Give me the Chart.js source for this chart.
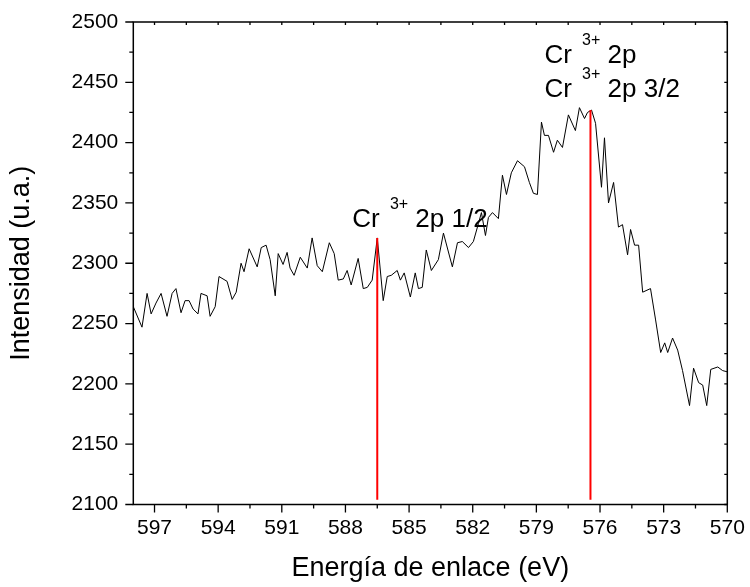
<!DOCTYPE html>
<html>
<head>
<meta charset="utf-8">
<script src="https://cdn.jsdelivr.net/npm/chart.js@4.4.1/dist/chart.umd.min.js"></script>
<style>
    html, body { margin: 0; padding: 0; background: #fff; }
    #wrap { width: 750px; height: 587px; }
</style>
</head>
<body>
<div id="wrap"><canvas id="xps" width="750" height="587"></canvas></div>
<script>
// Espectro XPS Cr 2p (energía de enlace en eV, intensidad en u.a.)
const energia = [
    598.00, 597.59, 597.35, 597.16, 596.93, 596.69, 596.41, 596.17, 595.99, 595.75,
    595.56, 595.37, 595.18, 594.95, 594.81, 594.52, 594.38, 594.14, 593.96, 593.58,
    593.34, 593.15, 592.92, 592.78, 592.54, 592.16, 591.97, 591.74, 591.55, 591.31,
    591.17, 590.94, 590.75, 590.61, 590.42, 590.13, 589.80, 589.57, 589.33, 589.09,
    588.76, 588.53, 588.34, 588.10, 587.92, 587.73, 587.40, 587.16, 586.97, 586.74,
    586.50, 586.22, 586.03, 585.84, 585.56, 585.41, 585.23, 584.94, 584.71, 584.56,
    584.38, 584.19, 583.95, 583.62, 583.38, 582.96, 582.72, 582.49, 582.20, 581.97,
    581.73, 581.59, 581.40, 581.26, 581.07, 580.79, 580.60, 580.41, 580.18, 579.89,
    579.56, 579.33, 579.14, 578.95, 578.76, 578.62, 578.43, 578.19, 578.01, 577.77,
    577.49, 577.16, 576.97, 576.73, 576.59, 576.40, 576.21, 575.93, 575.79, 575.60,
    575.36, 575.13, 574.94, 574.70, 574.56, 574.37, 574.18, 573.99, 573.62, 573.38,
    573.14, 572.95, 572.81, 572.58, 572.34, 572.11, 571.78, 571.59, 571.35, 571.16,
    570.97, 570.78, 570.45, 570.22, 570.00
];
const intensidad = [
    2264, 2247, 2275, 2258, 2267, 2275, 2256, 2275, 2279, 2259,
    2269, 2269, 2262, 2258, 2275, 2273, 2256, 2264, 2289, 2285,
    2270, 2276, 2300, 2293, 2312, 2297, 2313, 2315, 2303, 2273,
    2308, 2299, 2309, 2296, 2290, 2305, 2296, 2321, 2298, 2293,
    2317, 2308, 2286, 2287, 2294, 2282, 2304, 2279, 2280, 2286,
    2321, 2269, 2289, 2290, 2294, 2286, 2292, 2272, 2292, 2279,
    2280, 2311, 2294, 2303, 2325, 2297, 2317, 2318, 2313, 2318,
    2333, 2342, 2323, 2338, 2342, 2337, 2373, 2357, 2375, 2385,
    2380, 2367, 2358, 2357, 2417, 2406, 2406, 2392, 2402, 2396,
    2423, 2410, 2429, 2420, 2425, 2427, 2416, 2363, 2404, 2350,
    2367, 2330, 2332, 2307, 2328, 2315, 2315, 2276, 2279, 2253,
    2226, 2234, 2226, 2238, 2228, 2211, 2182, 2213, 2201, 2199,
    2182, 2212, 2214, 2211, 2210
];

// Líneas rojas de los picos
const picosEnergia = [586.5, 576.45];
const picosTope = [2321, 2427];
const picosBase = 2104;

const xTicks = [597, 594, 591, 588, 585, 582, 579, 576, 573, 570];
const yTicks = [2100, 2150, 2200, 2250, 2300, 2350, 2400, 2450, 2500];

// Etiquetas: [energía, intensidad (línea base del texto), texto tras "Cr 3+"]
const etiquetas = [
    [587.68, 2330, '2p 1/2'],
    [578.62, 2466, '2p'],
    [578.62, 2438, '2p 3/2']
];

const fuente = '"Liberation Sans", Arial, sans-serif';

const marco = {
    id: 'marco',
    afterDraw(chart) {
        const { ctx, chartArea: a, scales: { x, y } } = chart;
        ctx.save();
        ctx.strokeStyle = '#000';
        ctx.lineWidth = 1.5;
        ctx.strokeRect(a.left, a.top, a.right - a.left, a.bottom - a.top);

        ctx.lineWidth = 1.3;
        ctx.beginPath();
        // eje x: mayores y menores
        for (let v = 570; v <= 597.01; v += 1.5) {
            const px = x.getPixelForValue(v);
            const mayor = xTicks.includes(Math.round(v * 10) / 10);
            ctx.moveTo(px, a.bottom);
            ctx.lineTo(px, a.bottom + (mayor ? 8 : 4));
            ctx.moveTo(px, a.top);
            ctx.lineTo(px, a.top + 3);
        }
        // eje y
        for (let v = 2100; v <= 2500; v += 25) {
            const py = y.getPixelForValue(v);
            const mayor = yTicks.includes(v);
            ctx.moveTo(a.left, py);
            ctx.lineTo(a.left - (mayor ? 8 : 4), py);
            ctx.moveTo(a.right, py);
            ctx.lineTo(a.right - 3, py);
        }
        ctx.stroke();

        // etiquetas Cr 3+
        ctx.fillStyle = '#000';
        ctx.textBaseline = 'alphabetic';
        ctx.textAlign = 'left';
        etiquetas.forEach(([e, i, resto]) => {
            let px = x.getPixelForValue(e);
            const py = y.getPixelForValue(i);
            ctx.font = '26px ' + fuente;
            ctx.fillText('Cr', px, py);
            px += ctx.measureText('Cr ').width + 3;
            ctx.font = '16px ' + fuente;
            ctx.fillText('3+', px, py - 18);
            px += ctx.measureText('3+').width;
            ctx.font = '26px ' + fuente;
            px += ctx.measureText(' ').width;
            ctx.fillText(resto, px, py);
        });
        ctx.restore();
    }
};

const rojas = picosEnergia.map((e, k) => ({
    data: [{ x: e, y: picosBase }, { x: e, y: picosTope[k] }],
    borderColor: '#ff0000',
    borderWidth: 2,
    pointRadius: 0
}));

new Chart(document.getElementById('xps'), {
    type: 'line',
    data: {
        datasets: [
            ...rojas,
            {
                data: energia.map((e, i) => ({ x: e, y: intensidad[i] })),
                borderColor: '#000',
                borderWidth: 1,
                pointRadius: 0,
                tension: 0
            }
        ]
    },
    options: {
        responsive: false,
        animation: false,
        layout: { padding: { top: 22, right: 22.7, left: 0, bottom: 0 } },
        plugins: { legend: { display: false }, tooltip: { enabled: false } },
        scales: {
            x: {
                type: 'linear',
                reverse: true,
                min: 570,
                max: 598,
                afterBuildTicks: s => { s.ticks = xTicks.map(v => ({ value: v })); },
                afterFit: s => { s.height = 82.5; s.paddingLeft = 0; s.paddingRight = 0; },
                grid: { display: false, drawTicks: false },
                border: { display: false },
                ticks: {
                    color: '#000', font: { family: fuente, size: 21 }, padding: 11,
                    maxRotation: 0, autoSkip: false, callback: v => String(v)
                },
                title: {
                    display: true, text: 'Energía de enlace (eV)', color: '#000',
                    font: { family: fuente, size: 27 }, padding: { top: 0, bottom: 2 }
                }
            },
            y: {
                min: 2100,
                max: 2500,
                afterBuildTicks: s => { s.ticks = yTicks.map(v => ({ value: v })); },
                afterFit: s => { s.width = 133.3; s.paddingTop = 0; s.paddingBottom = 0; },
                grid: { display: false, drawTicks: false },
                border: { display: false },
                ticks: { color: '#000', font: { family: fuente, size: 21 }, padding: 15, callback: v => String(v) },
                title: {
                    display: true, text: 'Intensidad (u.a.)', color: '#000',
                    font: { family: fuente, size: 27 }, padding: { top: 5, bottom: 0 }
                }
            }
        }
    },
    plugins: [marco]
});
</script>
</body>
</html>
